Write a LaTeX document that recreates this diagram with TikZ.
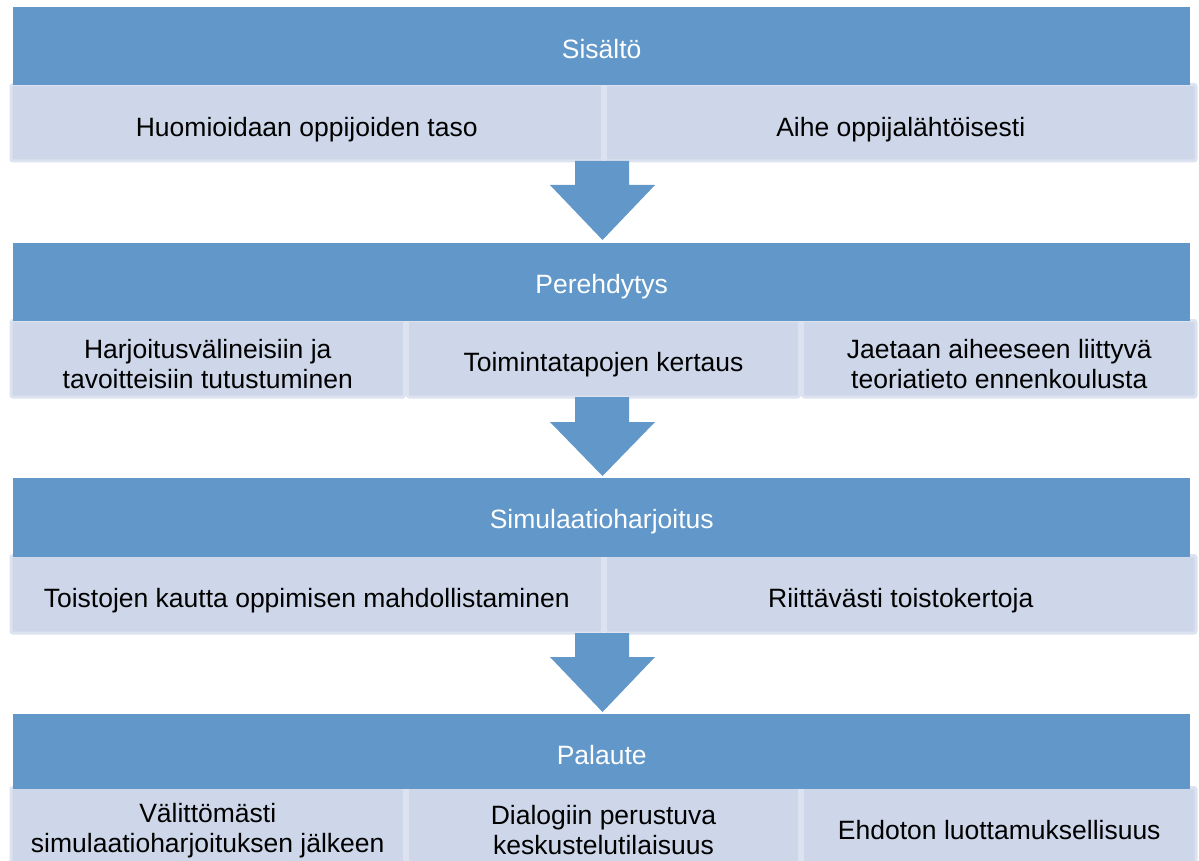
\documentclass[tikz,border=0pt]{standalone}
\usepackage{fontspec}
\setmainfont{Liberation Sans}
\definecolor{hdr}{HTML}{6197C9}
\definecolor{cellf}{HTML}{CDD7E9}
\definecolor{celld}{HTML}{DCE2EF}
\begin{document}
\begin{tikzpicture}[x=1pt,y=-1pt,
  hdrbox/.style={fill=hdr, draw=none, inner sep=0pt, anchor=north west},
  cellbox/.style={fill=cellf, draw=celld, line width=3pt, rounded corners=2pt, inner sep=0pt, anchor=north west},
  txt/.style={align=center, font=\fontsize{26.5}{30}\selectfont, text=black, inner sep=0pt},
  htxt/.style={font=\fontsize{26.5}{30}\selectfont, text=white, inner sep=0pt},
  blockarrow/.style={fill=hdr, draw=none}]
\useasboundingbox (0,0) rectangle (1199,861);

% ---------- row 1 ----------
\node[cellbox, minimum width=591.5pt, minimum height=76.5pt] (c11) at (9.5,83) {};
\node[cellbox, minimum width=590.5pt, minimum height=76.5pt] (c12) at (604,83) {};
\node[hdrbox, minimum width=1177pt, minimum height=78pt] (h1) at (13,7) {};
\node[htxt] (t1) at ([yshift=-3pt]h1.center) {Sisältö};
\node[txt] (t11) at ([yshift=-7pt]c11.center) {Huomioidaan oppijoiden taso};
\node[txt] (t12) at ([yshift=-7pt]c12.center) {Aihe oppijalähtöisesti};
\fill[blockarrow] (575,161) -- (629,161) -- (629,185) -- (655,185) -- (602.5,240) -- (550,185) -- (575,185) -- cycle;

% ---------- row 2 ----------
\node[cellbox, minimum width=393.5pt, minimum height=76.5pt] (c21) at (9.5,319) {};
\node[cellbox, minimum width=392pt, minimum height=76.5pt] (c22) at (406,319) {};
\node[cellbox, minimum width=393.5pt, minimum height=76.5pt] (c23) at (801,319) {};
\node[hdrbox, minimum width=1177pt, minimum height=78pt] (h2) at (13,243) {};
\node[htxt] (t2) at ([yshift=-4pt]h2.center) {Perehdytys};
\node[txt] (t21) at ([yshift=-5pt]c21.center) {Harjoitusvälineisiin ja\\tavoitteisiin tutustuminen};
\node[txt] (t22) at ([yshift=-6pt]c22.center) {Toimintatapojen kertaus};
\node[txt] (t23) at ([yshift=-5pt]c23.center) {Jaetaan aiheeseen liittyvä\\teoriatieto ennenkoulusta};
\fill[blockarrow] (575,397) -- (629,397) -- (629,422) -- (655,422) -- (602.5,476) -- (550,422) -- (575,422) -- cycle;

% ---------- row 3 ----------
\node[cellbox, minimum width=591.5pt, minimum height=77.5pt] (c31) at (9.5,554) {};
\node[cellbox, minimum width=590.5pt, minimum height=77.5pt] (c32) at (604,554) {};
\node[hdrbox, minimum width=1177pt, minimum height=79pt] (h3) at (13,478) {};
\node[htxt] (t3) at ([yshift=-4pt]h3.center) {Simulaatioharjoitus};
\node[txt] (t31) at ([yshift=-6pt]c31.center) {Toistojen kautta oppimisen mahdollistaminen};
\node[txt] (t32) at ([yshift=-6pt]c32.center) {Riittävästi toistokertoja};
\fill[blockarrow] (575,633) -- (629,633) -- (629,657) -- (655,657) -- (602.5,712) -- (550,657) -- (575,657) -- cycle;

% ---------- row 4 ----------
\node[cellbox, minimum width=393.5pt, minimum height=84pt] (c41) at (9.5,786) {};
\node[cellbox, minimum width=392pt, minimum height=84pt] (c42) at (406,786) {};
\node[cellbox, minimum width=393.5pt, minimum height=84pt] (c43) at (801,786) {};
\node[hdrbox, minimum width=1177pt, minimum height=75pt] (h4) at (13,714) {};
\node[htxt] (t4) at ([yshift=-3pt]h4.center) {Palaute};
\node[txt] (t41) at ([yshift=-1pt]c41.center) {Välittömästi\\simulaatioharjoituksen jälkeen};
\node[txt] (t42) at ([yshift=-1pt]c42.center) {Dialogiin perustuva\\keskustelutilaisuus};
\node[txt] (t43) at ([yshift=-1pt]c43.center) {Ehdoton luottamuksellisuus};
\end{tikzpicture}
\end{document}
